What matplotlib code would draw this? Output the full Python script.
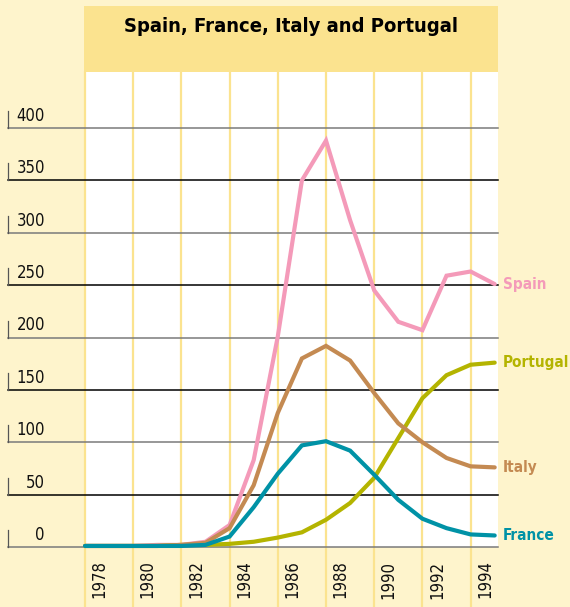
import matplotlib
matplotlib.use('Agg')
from matplotlib import pyplot as plt
from matplotlib.patches import Rectangle
import matplotlib.transforms as mtransforms
from matplotlib import font_manager

years = list(range(1978, 1996))
spain = [1, 1, 1, 2, 2, 5, 21, 83, 201, 350, 388, 312, 245, 215, 207, 259, 263, 251]
italy = [1, 1, 1, 1, 2, 4, 18, 59, 128, 180, 192, 178, 147, 118, 100, 85, 77, 76]
france = [1, 1, 1, 1, 1, 2, 10, 38, 70, 97, 101, 92, 69, 45, 27, 18, 12, 11]
portugal = [1, 1, 1, 1, 2, 2, 3, 5, 9, 14, 26, 42, 66, 104, 142, 164, 174, 176]

series_names = ['Spain', 'Portugal', 'Italy', 'France']
series_values = [spain, portugal, italy, france]
series_colors = ['#f49ab9', '#b4b400', '#c48a52', '#0092a6']

y_ticks = [0, 50, 100, 150, 200, 250, 300, 350, 400]
x_ticks = list(range(1978, 1995, 2))
title = 'Spain, France, Italy and Portugal'

# narrow look: use a condensed face if one is installed
condensed = [f for f in font_manager.fontManager.ttflist
             if f.stretch in ('condensed', 'semi-condensed', 'extra-condensed', 503, 300)]
if condensed:
    fam = condensed[0].name
else:
    fam = 'DejaVu Sans'
plt.rcParams['font.family'] = [fam, 'DejaVu Sans']
plt.rcParams['font.stretch'] = 'condensed'

W, H = 570, 607
bg = '#fef4cc'
band = '#fbe38f'
grid_yellow = '#fbe38f'

fig = plt.figure(figsize=(W / 100, H / 100), dpi=100, facecolor=bg)

left, right, top, bottom = 84, 498, 72, 547
ax = fig.add_axes([left / W, 1 - bottom / H, (right - left) / W, (bottom - top) / H])
ax.set_facecolor('white')
px_per_unit = (547 - 128) / 400
ax.set_ylim(0, (bottom - top) / px_per_unit)
ax.set_xlim(1978 - 1 / 24.1, 1978 - 1 / 24.1 + (right - left) / 24.1)
for s in ax.spines.values():
    s.set_visible(False)
ax.set_xticks([])
ax.set_yticks([])

# title band
fig.patches.append(Rectangle((left / W, 1 - top / H), (right - left) / W, (top - 6) / H,
                             transform=fig.transFigure, facecolor=band, edgecolor='none', zorder=0))
fig.text((left + right) / 2 / W, 1 - 26 / H, title, ha='center', va='center',
         fontsize=14.5, fontweight='bold', color='black', fontstretch='condensed')

# vertical year lines, running down through the label area
trans_xfig = mtransforms.blended_transform_factory(ax.transData, fig.transFigure)
for yr in x_ticks:
    ax.plot([yr, yr], [0, 1 - top / H], transform=trans_xfig, color=grid_yellow,
            lw=1.6, clip_on=False, zorder=1)
    ax.text(yr + 0.6, -13, str(yr), rotation=90, ha='center', va='top',
            fontsize=12, color='#111111', clip_on=False, fontstretch='condensed')

# horizontal lines with labels on the left
trans_yaxes = mtransforms.blended_transform_factory(ax.transAxes, ax.transData)
x0 = (8 - left) / (right - left)
for i, v in enumerate(y_ticks):
    col = '#7a7a7a' if i % 2 == 0 else 'black'
    ax.plot([x0, 1], [v, v], transform=trans_yaxes, color=col, lw=1.1,
            clip_on=False, zorder=2)
    ax.plot([x0, x0], [v, v + 17 / px_per_unit], transform=trans_yaxes, color='#555555',
            lw=0.9, clip_on=False, zorder=2)
    ax.text((45 - left) / (right - left), v + 3 / px_per_unit, str(v), transform=trans_yaxes,
            ha='right', va='bottom', fontsize=12, color='#111111', fontstretch='condensed')

# data lines
for name, vals, col in zip(series_names, series_values, series_colors):
    ax.plot(years, vals, color=col, lw=3, solid_capstyle='round', solid_joinstyle='miter',
            zorder=3, clip_on=False)
    ax.text(years[-1] + 0.35, vals[-1], name, color=col, fontsize=11, fontweight='bold',
            ha='left', va='center', clip_on=False, fontstretch='condensed')

fig.savefig('out.png', dpi=100, facecolor=bg)
